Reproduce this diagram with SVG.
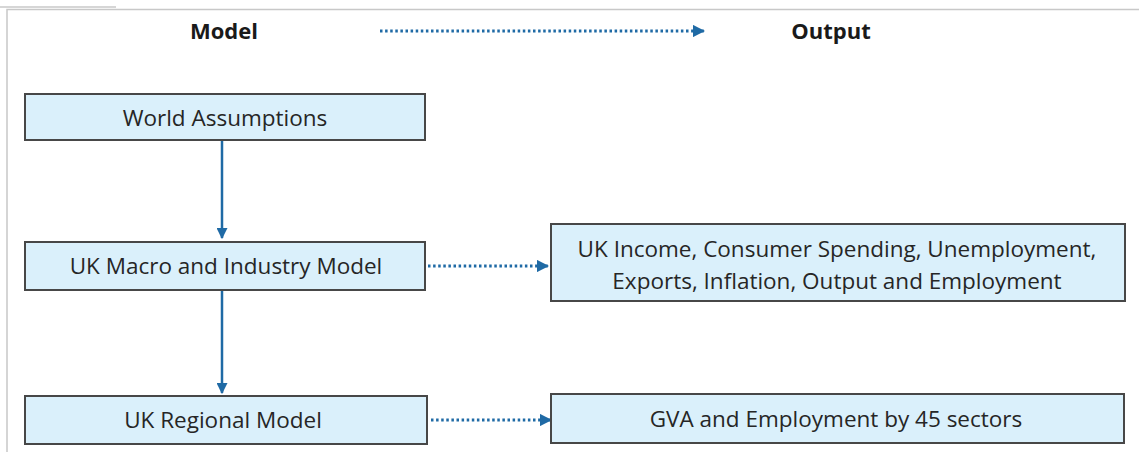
<svg xmlns="http://www.w3.org/2000/svg" width="1139" height="452" viewBox="0 0 1139 452">
<style>
.box{fill:#daf0fb;stroke:#474747;stroke-width:2}
.t{font-family:"Open Sans","Liberation Sans",sans-serif;font-size:22.5px;fill:#262626;text-anchor:middle}
.h{font-family:"Open Sans","Liberation Sans",sans-serif;font-size:22px;font-weight:bold;fill:#1a1a1a;text-anchor:middle}
.solid{stroke:#1f6aa5;stroke-width:2.5;fill:none}
.dot{stroke:#1f6aa5;stroke-width:2.8;fill:none;stroke-dasharray:2.5 2.6}
.frame{stroke:#c8c8c8;stroke-width:1.5;fill:none}
</style>
<defs>
<marker id="ah" viewBox="0 0 10 10" refX="9" refY="5" markerWidth="4.4" markerHeight="4.4" orient="auto" markerUnits="strokeWidth">
<path d="M0,0 L10,5 L0,10 z" fill="#1f6aa5"/>
</marker>
</defs>
<rect width="1139" height="452" fill="#ffffff"/>
<g id="frame">
<path class="frame" d="M0,7 H116"/>
<path class="frame" d="M7,452 V9.5 H1139"/>
</g>
<g id="header">
<text class="h" x="224" y="39">Model</text>
<text class="h" x="831" y="39">Output</text>
</g>
<g id="connectors">
<path class="dot" d="M380,31 H704" marker-end="url(#ah)"/>
<path class="solid" d="M222,141 V238" marker-end="url(#ah)"/>
<path class="solid" d="M222,290 V393" marker-end="url(#ah)"/>
<path class="dot" d="M428,266 H548" marker-end="url(#ah)"/>
<path class="dot" d="M431,420 H551" marker-end="url(#ah)"/>
</g>
<g id="world">
<rect class="box" x="25" y="94" width="400" height="46"/>
<text class="t" x="225" y="126">World Assumptions</text>
</g>
<g id="macro">
<rect class="box" x="25" y="242" width="400" height="48"/>
<text class="t" x="226" y="274">UK Macro and Industry Model</text>
</g>
<g id="regional">
<rect class="box" x="25" y="396" width="402" height="48"/>
<text class="t" x="223" y="428">UK Regional Model</text>
</g>
<g id="output1">
<rect class="box" x="551" y="224" width="574" height="77"/>
<text class="t" x="837" y="257">UK Income, Consumer Spending, Unemployment,</text>
<text class="t" x="837" y="289">Exports, Inflation, Output and Employment</text>
</g>
<g id="output2">
<rect class="box" x="551" y="394" width="573" height="49"/>
<text class="t" x="836" y="427">GVA and Employment by 45 sectors</text>
</g>
</svg>
